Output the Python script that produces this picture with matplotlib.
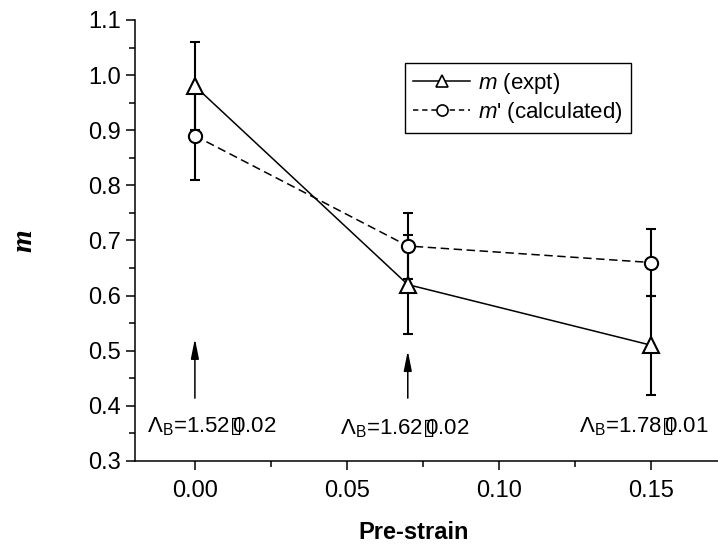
import matplotlib
matplotlib.use("Agg")
import matplotlib.pyplot as plt
from matplotlib.lines import Line2D
from matplotlib.ticker import MultipleLocator, FormatStrFormatter

plt.rcParams['font.family'] = ['Liberation Sans', 'DejaVu Sans']
plt.rcParams['mathtext.fontset'] = 'custom'
plt.rcParams['mathtext.rm'] = 'Liberation Sans'
plt.rcParams['mathtext.it'] = 'Liberation Sans:italic'
plt.rcParams['mathtext.sf'] = 'DejaVu Sans:bold'

# data
strain = [0.0, 0.07, 0.15]
m_expt = [0.98, 0.62, 0.51]
m_expt_err = [0.08, 0.09, 0.09]
m_calc = [0.89, 0.69, 0.66]
m_calc_err = [0.08, 0.06, 0.06]

# arrows (x, base, tip) and lambda labels
arrow_x = [0.0, 0.07]
arrow_base = [0.414, 0.414]
arrow_tip = [0.522, 0.50]
lam_x = [-0.0158, 0.069, 0.1688]
lam_y = [0.352, 0.349, 0.352]
lam_ha = ['left', 'center', 'right']
box = "$\\mathsf{\u25af}\\!\\!\\!$"
lam_text = ["$\\Lambda_{\\mathrm{B}}$=1.52" + box + "0.02",
            "$\\Lambda_{\\mathrm{B}}$=1.62" + box + "0.02",
            "$\\Lambda_{\\mathrm{B}}$=1.78" + box + "0.01"]

fig = plt.figure(figsize=(7.18, 5.44), dpi=100)
ax = fig.add_axes([0.188, 0.1526, 0.812, 0.8107])

# error bars underneath, lines and open markers on top
ax.errorbar(strain, m_expt, yerr=m_expt_err, fmt='none', ecolor='k',
            elinewidth=1.5, capsize=3.5, capthick=1.5, zorder=2)
ax.errorbar(strain, m_calc, yerr=m_calc_err, fmt='none', ecolor='k',
            elinewidth=1.5, capsize=3.5, capthick=1.5, zorder=2)
ax.plot(strain, m_expt, color='k', ls='-', lw=1.1, marker='^', ms=12,
        mfc='white', mec='k', mew=1.5, zorder=3)
ax.plot(strain, m_calc, color='k', ls=(0, (5.5, 3)), lw=1.1, marker='o', ms=9.5,
        mfc='white', mec='k', mew=1.5, zorder=3)

for x, b, t in zip(arrow_x, arrow_base, arrow_tip):
    ax.annotate("", xy=(x, t), xytext=(x, b),
                arrowprops=dict(arrowstyle='-|>,head_length=0.6,head_width=0.12',
                                color='k', lw=1.1, mutation_scale=20,
                                shrinkA=0, shrinkB=0))

for x, y, s, ha in zip(lam_x, lam_y, lam_text, lam_ha):
    ax.text(x, y, s, ha=ha, va='baseline', fontsize=16)

ax.set_xlim(-0.0197, 0.172)
ax.set_ylim(0.3, 1.1)
ax.xaxis.set_major_locator(MultipleLocator(0.05))
ax.xaxis.set_minor_locator(MultipleLocator(0.025))
ax.xaxis.set_major_formatter(FormatStrFormatter('%.2f'))
ax.yaxis.set_major_locator(MultipleLocator(0.1))
ax.yaxis.set_minor_locator(MultipleLocator(0.05))
ax.yaxis.set_major_formatter(FormatStrFormatter('%.1f'))
ax.tick_params(which='major', direction='out', length=6.7, width=1.1, labelsize=17)
ax.tick_params(which='minor', direction='out', length=4.3, width=1.1)
ax.tick_params(axis='y', pad=3.6)
ax.tick_params(axis='x', pad=7)
ax.spines['top'].set_visible(False)
ax.spines['right'].set_visible(False)
ax.spines['left'].set_linewidth(1.1)
ax.spines['bottom'].set_linewidth(1.1)

ax.set_xlabel("Pre-strain", fontsize=17, fontweight='bold')
ax.xaxis.set_label_coords((414 - 135) / 583, -(533 - 461) / 441)
ax.xaxis.label.set_verticalalignment('center')
ax.set_ylabel("m", fontsize=21, fontweight='bold', fontstyle='italic',
              family='Liberation Serif')
ax.yaxis.set_label_coords((24 - 135) / 583, 0.5)
ax.yaxis.label.set_verticalalignment('center')

handles = [
    Line2D([], [], color='k', ls='-', lw=1.1, marker='^', ms=9,
           mfc='white', mec='k', mew=1.2),
    Line2D([], [], color='k', ls=(0, (3.5, 2.5)), lw=1.1, marker='o', ms=8,
           mfc='white', mec='k', mew=1.2),
]
labels = ["$m$ (expt)", "$m$' (calculated)"]
leg = ax.legend(handles, labels, loc='upper left', bbox_to_anchor=(0.463, 0.9025),
                borderaxespad=0, fontsize=16, frameon=True, fancybox=False,
                edgecolor='k', framealpha=1, handlelength=2.6, handletextpad=0.35,
                borderpad=0.35, labelspacing=0.2)
leg.get_frame().set_linewidth(1.0)

fig.savefig("out.png", dpi=100)
